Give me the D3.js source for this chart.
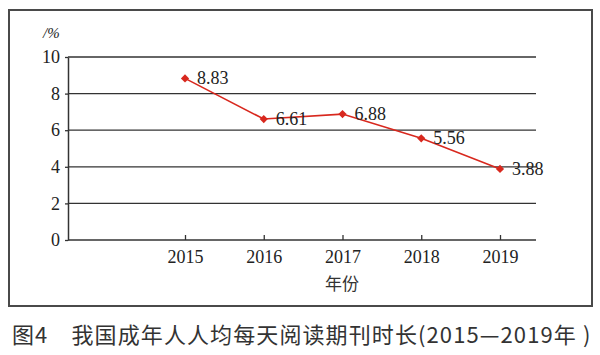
<!DOCTYPE html>
<html>
<head>
<meta charset="utf-8">
<script src="https://cdn.jsdelivr.net/npm/d3@7"></script>
<style>
    html, body { margin: 0; padding: 0; background: #fff; }
    svg { display: block; }
</style>
</head>
<body>
<div id="chart"></div>
<script>
// Données : durée moyenne de lecture de périodiques (%)
const years = [2015, 2016, 2017, 2018, 2019];
const values = [8.83, 6.61, 6.88, 5.56, 3.88];
const yTicks = [0, 2, 4, 6, 8, 10];
const yUnit = '/%';
const xTitle = '年份';
const caption = '图4\u3000我国成年人人均每天阅读期刊时长(2015—2019年 )';

const width = 600;
const height = 355;
const serif = '"Liberation Serif", "Times New Roman", serif';
const cjk = '"Noto Sans CJK SC", sans-serif';
const red = '#d8281e';

const svg = d3.select('#chart')
    .append('svg')
    .attr('width', width)
    .attr('height', height);

// Cadre extérieur
svg.append('rect')
    .attr('x', 9)
    .attr('y', 10)
    .attr('width', 583)
    .attr('height', 296)
    .attr('fill', 'none')
    .attr('stroke', '#4a4a4a')
    .attr('stroke-width', 2);

const plot = { left: 68, right: 536, top: 57, bottom: 240 };

const x = d3.scaleLinear()
    .domain([2015, 2019])
    .range([185, 500]);

const y = d3.scaleLinear()
    .domain([0, 10])
    .range([plot.bottom, plot.top]);

// Grille horizontale
svg.append('g')
    .selectAll('line')
    .data(yTicks.filter(d => d > 0))
    .enter()
    .append('line')
    .attr('x1', plot.left)
    .attr('x2', plot.right)
    .attr('y1', d => y(d))
    .attr('y2', d => y(d))
    .attr('stroke', '#333')
    .attr('stroke-width', 1.3);

// Axe Y
const yAxis = svg.append('g')
    .attr('transform', `translate(${plot.left},0)`)
    .call(d3.axisLeft(y).tickValues(yTicks).tickSize(3).tickPadding(5).tickSizeOuter(0));
yAxis.select('.domain').attr('stroke', '#333').attr('stroke-width', 1.5);
yAxis.selectAll('.tick line').attr('stroke', '#333').attr('stroke-width', 1.3);
yAxis.selectAll('.tick text')
    .attr('fill', '#222')
    .style('font-family', serif)
    .style('font-size', '18px');

// Axe X
const xAxis = svg.append('g')
    .attr('transform', `translate(0,${plot.bottom})`)
    .call(d3.axisBottom(x).tickValues(years).tickFormat(d3.format('d')).tickSize(0).tickPadding(10));
xAxis.select('.domain').remove();
xAxis.append('line')
    .attr('x1', plot.left)
    .attr('x2', plot.right)
    .attr('stroke', '#333')
    .attr('stroke-width', 1.5);
xAxis.selectAll('.tick')
    .append('line')
    .attr('y1', 0)
    .attr('y2', -5)
    .attr('stroke', '#333')
    .attr('stroke-width', 1.3);
xAxis.selectAll('.tick text')
    .attr('fill', '#222')
    .style('font-family', serif)
    .style('font-size', '18px');

// Unité
svg.append('text')
    .attr('x', 43)
    .attr('y', 38)
    .style('font-family', serif)
    .style('font-size', '15px')
    .style('font-style', 'italic')
    .attr('fill', '#222')
    .text(yUnit);

// Titre de l'axe X
svg.append('text')
    .attr('x', 342)
    .attr('y', 290)
    .attr('text-anchor', 'middle')
    .style('font-family', cjk)
    .style('font-size', '17px')
    .attr('fill', '#333')
    .text(xTitle);

// Courbe
const data = years.map((yr, i) => ({ year: yr, value: values[i] }));

const line = d3.line()
    .x(d => x(d.year))
    .y(d => y(d.value));

svg.append('path')
    .datum(data)
    .attr('d', line)
    .attr('fill', 'none')
    .attr('stroke', red)
    .attr('stroke-width', 1.6);

// Marqueurs en losange (carré tourné)
svg.append('g')
    .selectAll('path')
    .data(data)
    .enter()
    .append('path')
    .attr('d', d3.symbol().type(d3.symbolSquare).size(34))
    .attr('transform', d => `translate(${x(d.year)},${y(d.value)}) rotate(45)`)
    .attr('fill', red);

// Étiquettes
svg.append('g')
    .selectAll('text')
    .data(data)
    .enter()
    .append('text')
    .attr('x', d => x(d.year) + 12)
    .attr('y', d => y(d.value) + 6)
    .style('font-family', serif)
    .style('font-size', '18px')
    .attr('fill', '#222')
    .text(d => d.value.toFixed(2));

// Légende de la figure
svg.append('text')
    .attr('x', 12)
    .attr('y', 343)
    .style('font-family', cjk)
    .style('font-size', '22px')
    .style('letter-spacing', '1.1px')
    .attr('fill', '#333')
    .text(caption);
</script>
</body>
</html>
